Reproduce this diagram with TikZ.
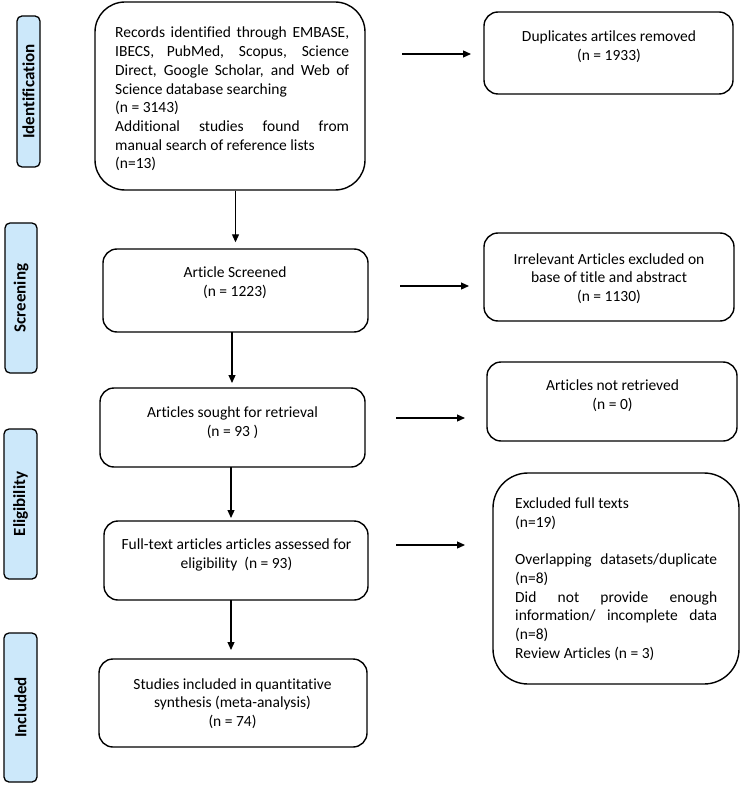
\documentclass[tikz,border=0pt]{standalone}
\usepackage{fontspec}
\setmainfont{Carlito}[Ligatures=NoCommon]
\usetikzlibrary{arrows.meta}
\definecolor{phase}{HTML}{CCE8FA}
\newcommand\jl[2]{\makebox[#1][s]{\spaceskip=0pt\xspaceskip=0pt\relax #2}}
\tikzset{
  box/.style={draw, line width=1.4pt, rounded corners=14pt, inner sep=0pt},
  phasebox/.style={draw, line width=1.3pt, rounded corners=5pt, fill=phase, inner sep=0pt},
  phasetext/.style={rotate=90, font=\fontsize{17}{20}\selectfont\bfseries},
  txt/.style={inner sep=0pt, font=\fontsize{15.5}{18.7}\selectfont,
    execute at begin node={\spaceskip=0pt\xspaceskip=0pt\relax}},
  arr/.style={line width=1.2pt, -{Triangle[length=8pt,width=7pt]}}
}
\begin{document}
\begin{tikzpicture}[x=1pt,y=-1pt]
\useasboundingbox (0,0) rectangle (741,786);
% phase labels
\node[phasebox, minimum width=23pt, minimum height=151pt] (s1) at (28.5,91.5) {};
\node[phasetext] (s1t) at (s1.center) {Identification};
\node[phasebox, minimum width=32pt, minimum height=150pt] (s2) at (21,298) {};
\node[phasetext] (s2t) at (s2.center) {Screening};
\node[phasebox, minimum width=33pt, minimum height=150pt] (s3) at (20.5,504) {};
\node[phasetext] (s3t) at (s3.center) {Eligibility};
\node[phasebox, minimum width=33pt, minimum height=149pt] (s4) at (20.5,707.5) {};
\node[phasetext] (s4t) at (s4.center) {Included};
% main column
\node[box, rounded corners=30pt, minimum width=270pt, minimum height=188pt] (b1) at (230,96) {};
\node[txt, anchor=base west, text width=234pt, align=left] (b1t) at (115,38)
 {\jl{234pt}{Records identified through EMBASE,}\\
  \jl{234pt}{IBECS, PubMed, Scopus, Science}\\
  \jl{234pt}{Direct, Google Scholar, and Web of}\\
  Science database searching\\
  (n = 3143)\\
  \jl{234pt}{Additional studies found from}\\
  manual search of reference lists\\
  (n=13)};
\node[box, minimum width=265pt, minimum height=83pt] (b2) at (235.5,290.5) {};
\node[txt, anchor=base, align=center] (b2t) at (235,296.5) {Article Screened\\(n = 1223)};
\node[box, minimum width=265pt, minimum height=79pt] (b3) at (232.5,427.5) {};
\node[txt, anchor=base, align=center] (b3t) at (232.5,436.5) {Articles sought for retrieval\\(n = 93 )};
\node[box, minimum width=264pt, minimum height=79pt] (b4) at (236,560.5) {};
\node[txt, anchor=base, align=center] (b4t) at (236.5,568.5) {Full-text articles articles assessed for\\eligibility~ (n = 93)};
\node[box, minimum width=268pt, minimum height=88pt] (b5) at (233,703) {};
\node[txt, anchor=base, align=center] (b5t) at (232.5,726.5) {Studies included in quantitative\\synthesis (meta-analysis)\\(n = 74)};
% right column
\node[box, minimum width=249pt, minimum height=82pt] (d1) at (608.5,53) {};
\node[txt, anchor=base, align=center] (d1t) at (609,60.5) {Duplicates artilces removed\\(n = 1933)};
\node[box, minimum width=250pt, minimum height=88pt] (d2) at (609,277) {};
\node[txt, anchor=base, align=center] (d2t) at (609,301.5) {Irrelevant Articles excluded on\\base of title and abstract\\(n = 1130)};
\node[box, minimum width=250pt, minimum height=79pt] (d3) at (612,401.5) {};
\node[txt, anchor=base, align=center] (d3t) at (612.5,409.5) {Articles not retrieved\\(n = 0)};
\node[box, rounded corners=35pt, minimum width=246pt, minimum height=211pt] (d4) at (616,578.5) {};
\node[txt, anchor=base west, text width=202pt, align=left] (d4t) at (515,508.5)
 {Excluded full texts\\
  (n=19)\\[18.7pt]
  \jl{202pt}{Overlapping datasets/duplicate}\\
  (n=8)\\
  \jl{202pt}{Did not provide enough}\\
  \jl{202pt}{information/ incomplete data}\\
  (n=8)\\
  Review Articles (n = 3)};
% arrow end points
\coordinate (h1s) at (402,54);  \coordinate (h1e) at (471,54);
\coordinate (h2s) at (400,286); \coordinate (h2e) at (469,286);
\coordinate (h3s) at (396,418); \coordinate (h3e) at (465,418);
\coordinate (h4s) at (396,545); \coordinate (h4e) at (465,545);
% vertical arrows
\draw[arr, shorten >=6pt] (b2.north |- b1.south) -- (b2.north);
\draw[arr, shorten >=5pt] (232,332) -- (232,388);
\draw[arr, shorten >=3pt] (231,467) -- (231,521);
\draw[arr, shorten >=9pt] (231,600) -- (231,659);
% horizontal arrows
\draw[arr] (h1s) -- (h1e);
\draw[arr] (h2s) -- (h2e);
\draw[arr] (h3s) -- (h3e);
\draw[arr] (h4s) -- (h4e);
\end{tikzpicture}
\end{document}
